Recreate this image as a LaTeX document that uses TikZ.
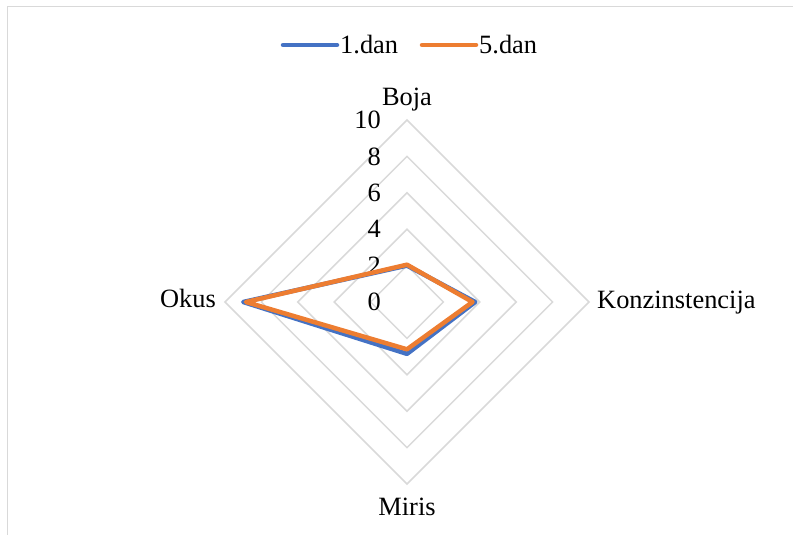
\documentclass[tikz,border=0pt]{standalone}
\usepackage{fontspec}
\setmainfont{Liberation Serif}
\usetikzlibrary{calc}
\definecolor{gridgray}{HTML}{D9D9D9}
\definecolor{serblue}{HTML}{4472C4}
\definecolor{serorange}{HTML}{ED7D31}
\begin{document}
\begin{tikzpicture}[x=1bp,y=-1bp,
  lbl/.style={inner sep=0pt,font=\fontsize{26.5}{30}\selectfont},
  ring/.style={draw=gridgray,line width=1.5bp},
  serline/.style={line width=4.5bp,line join=round,line cap=round},
  legline/.style={line width=4.5bp,line cap=round}]
\useasboundingbox (0,0) rectangle (793,535);
% frame (top and left visible)
\coordinate (fTR) at (793,6.7);
\coordinate (fTL) at (7.3,6.7);
\coordinate (fBL) at (7.3,535);
\draw[gridgray,line width=1.5bp] (fTR) -- (fTL) -- (fBL);
% centre and rings
\coordinate (C) at (407,302);
\foreach \k in {1,...,5}{
  \pgfmathsetmacro{\r}{36.4*\k}
  \draw[ring] ($(C)+(0,-\r)$) -- ($(C)+(\r,0)$) -- ($(C)+(0,\r)$) -- ($(C)+(-\r,0)$) -- cycle;
}
% axis value labels
\foreach \k/\t in {0/0,1/2,2/4,3/6,4/8,5/10}{
  \node[lbl,anchor=east] (v\k) at (381,{302-36.4*\k}) {\t};
}
% category labels
\node[lbl,anchor=base] (boja) at (407,106) {Boja};
\node[lbl,anchor=base west] (konz) at (597,309) {Konzinstencija};
\node[lbl,anchor=base] (miris) at (407,515) {Miris};
\node[lbl,anchor=base east] (okus) at (216,308) {Okus};
% series 1.dan
\coordinate (b1) at (407,{302-18.2*2.0});
\coordinate (k1) at ({407+18.2*3.75},302);
\coordinate (m1) at (407,{302+18.2*2.85});
\coordinate (o1) at ({407-18.2*9.0},302);
\draw[serline,serblue] (b1) -- (k1) -- (m1) -- (o1) -- cycle;
% series 5.dan
\coordinate (b5) at (407,{302-18.2*2.05});
\coordinate (k5) at ({407+18.2*3.6},302);
\coordinate (m5) at (407,{302+18.2*2.6});
\coordinate (o5) at ({407-18.2*8.85},302);
\draw[serline,serorange] (b5) -- (k5) -- (m5) -- (o5) -- cycle;
% legend
\coordinate (l1a) at (283,45);
\coordinate (l1b) at (337,45);
\draw[legline,serblue] (l1a) -- (l1b);
\node[lbl,anchor=base west] (leg1) at (340,53.5) {1.dan};
\coordinate (l5a) at (422,45);
\coordinate (l5b) at (476,45);
\draw[legline,serorange] (l5a) -- (l5b);
\node[lbl,anchor=base west] (leg5) at (479,53.5) {5.dan};
\end{tikzpicture}
\end{document}
